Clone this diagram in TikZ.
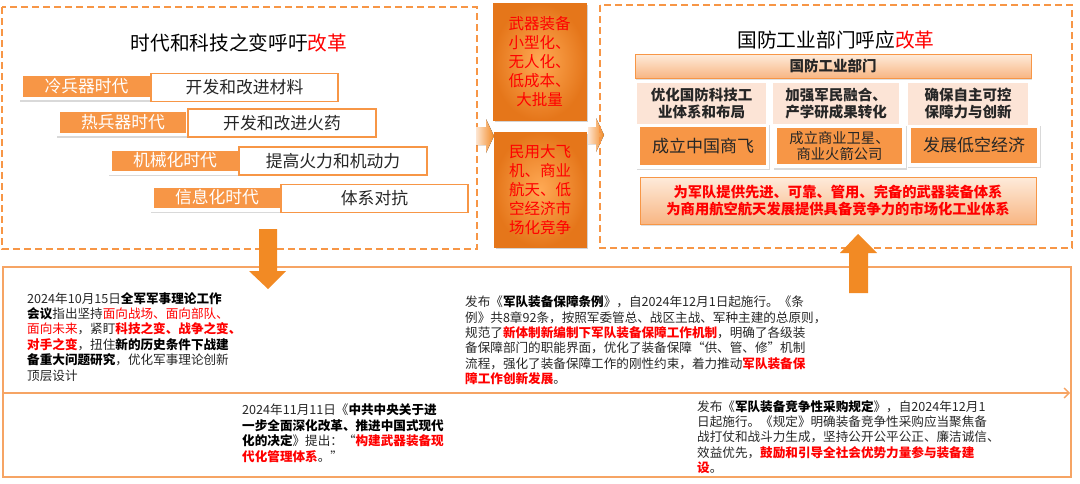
\documentclass[tikz,border=0pt]{standalone}
\usepackage{fontspec}
\setmainfont{Noto Sans CJK SC}
\usetikzlibrary{shadows,arrows.meta}
\definecolor{orL}{HTML}{F79646}
\definecolor{orA}{HTML}{F28A24}
\definecolor{orLine}{HTML}{F6A464}
\definecolor{redT}{HTML}{FF0000}
\definecolor{peach}{HTML}{FCE4D6}
\definecolor{txt}{HTML}{262626}
\definecolor{midIn}{HTML}{FFAA55}
\definecolor{midOut}{HTML}{E5761A}
\definecolor{hdTop}{HTML}{FEEBDB}
\definecolor{hdBot}{HTML}{F8B683}
\newcommand\redbf[1]{\textcolor{redT}{\bfseries #1}}
\newcommand\redtx[1]{\textcolor{redT}{#1}}
\newcommand\blkbf[1]{{\color{black}\bfseries #1}}
\begin{document}
\begin{tikzpicture}[x=1pt,y=-1pt,
  dashbox/.style={draw=orL, line width=2.2pt, dash pattern=on 7pt off 4pt},
  eralabel/.style={fill=orL, text=white, inner sep=0, font=\fontsize{16.8}{20}\selectfont},
  erabox/.style={draw=orL, line width=1.6pt, fill=white, inner sep=0, text=txt, font=\fontsize{16.8}{20}\selectfont},
  shbox/.style={fill=white, inner sep=0, drop shadow={opacity=0.3, shadow xshift=1pt, shadow yshift=-1.5pt}},
  midbox/.style={inner sep=0, text=redT, align=center, font=\fontsize{15.5}{19}\selectfont, inner color=midIn, outer color=midOut, draw=midOut, drop shadow={opacity=0.35, shadow xshift=1.5pt, shadow yshift=-1.5pt}},
  blockarrow/.style={fill=orA},
  sidearrow/.style={left color=orL!25, right color=orA},
  coltext/.style={fill=peach, inner sep=0, text=txt, align=center, font=\fontsize{14.5}{17}\bfseries},
  orbox/.style={fill=orL, inner sep=0, text=txt, align=center},
  bline/.style={draw=orLine, line width=1.3pt},
  body/.style={anchor=north west, inner sep=0, align=left, text=txt, font=\fontsize{12.6}{15.4}\selectfont},
]
\useasboundingbox (0,0) rectangle (1080,483);

% ---------- left dashed panel ----------
\draw[dashbox] (2,7) rectangle (477,249);
\node[text=black, font=\fontsize{19.7}{22}\selectfont] (t1) at (239,43) {时代和科技之变呼吁\textcolor{redT}{改革}};

\node[shbox, minimum width=133, minimum height=27] (S1) at (85.5,86.5) {};
\node[eralabel, minimum width=127, minimum height=21] (L1) at (86.5,86.5) {冷兵器时代};
\node[erabox, minimum width=187, minimum height=28] (B1) at (244.5,87.5) {开发和改进材料};

\node[shbox, minimum width=132, minimum height=28] (S2) at (122,122) {};
\node[eralabel, minimum width=126, minimum height=21] (L2) at (123,122) {热兵器时代};
\node[erabox, minimum width=188, minimum height=28] (B2) at (282,123) {开发和改进火药};

\node[shbox, minimum width=132, minimum height=28] (S3) at (174,160.5) {};
\node[eralabel, minimum width=126, minimum height=20] (L3) at (175,160.5) {机械化时代};
\node[erabox, minimum width=188, minimum height=28] (B3) at (333,161) {提高火力和机动力};

\node[shbox, minimum width=132, minimum height=28] (S4) at (216,197.5) {};
\node[eralabel, minimum width=126, minimum height=20] (L4) at (217,197.5) {信息化时代};
\node[erabox, minimum width=187, minimum height=28] (B4) at (374.5,198.5) {体系对抗};

% ---------- middle boxes ----------
\node[midbox, minimum width=93, minimum height=117] (M1) at (539.5,62) {武器装备\\小型化、\\无人化、\\低成本、\\大批量};
\node[midbox, minimum width=92, minimum height=115] (M2) at (540,189.5) {民用大飞\\机、商业\\航天、低\\空经济市\\场化竞争};

% side arrows
\fill[sidearrow] (476,127) -- (486,127) -- (486,119) -- (494,136) -- (486,153) -- (486,145) -- (476,145) -- cycle;
\fill[sidearrow] (588,127) -- (596,127) -- (596,118) -- (604,135) -- (596,152) -- (596,144) -- (588,144) -- cycle;

% ---------- right dashed panel ----------
\draw[dashbox] (600,5) rectangle (1072,248);
\node[text=black, font=\fontsize{19.7}{22}\selectfont] (t2) at (836,40) {国防工业部门呼应\textcolor{redT}{改革}};
\node[top color=hdTop, bottom color=hdBot, draw=orL, line width=0.8pt, minimum width=396, minimum height=24, inner sep=0,
      text=txt, font=\fontsize{14.5}{17}\bfseries, drop shadow={opacity=0.25, shadow xshift=1pt, shadow yshift=-1.5pt}] (H) at (833,66) {国防工业部门};

\node[coltext, minimum width=129, minimum height=42] (C1) at (701.5,103.5) {优化国防科技工\\业体系和布局};
\node[coltext, minimum width=126, minimum height=42] (C2) at (836,103.5) {加强军民融合、\\产学研成果转化};
\node[coltext, minimum width=120, minimum height=42] (C3) at (968,103.5) {确保自主可控\\保障力与创新};

\node[shbox, minimum width=133, minimum height=45] (F1) at (702.5,146) {};
\node[orbox, minimum width=126, minimum height=38, font=\fontsize{17}{20}\selectfont] (O1) at (703,146) {成立中国商飞};
\node[shbox, minimum width=133, minimum height=44] (F2) at (839,146) {};
\node[orbox, minimum width=125, minimum height=36, font=\fontsize{14.3}{16.5}\selectfont] (O2) at (839.5,146) {成立商业卫星、\\商业火箭公司};
\node[shbox, minimum width=133, minimum height=42] (F3) at (973.5,145.5) {};
\node[orbox, minimum width=126, minimum height=35, font=\fontsize{17}{20}\selectfont] (O3) at (974,145.5) {发展低空经济};

\node[top color=hdTop, bottom color=hdBot, draw=orL, line width=1pt, minimum width=396, minimum height=47, inner sep=0,
      text=redT, align=center, font=\fontsize{14.3}{16.5}\bfseries, drop shadow={opacity=0.25, shadow xshift=1pt, shadow yshift=-1.5pt}] (BN) at (838,200.5)
      {为军队提供先进、可靠、管用、完备的武器装备体系\\为商用航空航天发展提供具备竞争力的市场化工业体系};

% ---------- bottom panel ----------
\draw[bline] (3,267) rectangle (1071,477);
\coordinate (mL) at (3,393);
\coordinate (mR) at (1070,393);
\draw[bline, -{Straight Barb[length=5pt,width=10pt]}] (mL) -- (mR);

% big arrows
\fill[blockarrow] (259,229) -- (277,229) -- (277,271) -- (286,271) -- (268,289) -- (249,271) -- (259,271) -- cycle;
\fill[blockarrow] (849,293) -- (868,293) -- (868,253) -- (877,253) -- (858,234) -- (840,253) -- (849,253) -- cycle;

\node[body] (T1) at (27,292) {2024年10月15日\blkbf{全军军事理论工作}\\
\blkbf{会议}指出坚持\redtx{面向战场、面向部队、}\\
\redtx{面向未来}，紧盯\redbf{科技之变、战争之变、}\\
\redbf{对手之变}，扭住\blkbf{新的历史条件下战建}\\
\blkbf{备重大问题研究}，优化军事理论创新\\
顶层设计};

\node[body] (T2) at (465,295.5) {发布《\blkbf{军队装备保障条例}》，自2024年12月1日起施行。《条\\
例》共8章92条，按照军委管总、战区主战、军种主建的总原则，\\
规范了\redbf{新体制新编制下军队装备保障工作机制}，明确了各级装\\
备保障部门的职能界面，优化了装备保障“供、管、修”机制\\
流程，强化了装备保障工作的刚性约束，着力推动\redbf{军队装备保}\\
\redbf{障工作创新发展}。};

\node[body] (T3) at (242,404) {2024年11月11日《\blkbf{中共中央关于进}\\
\blkbf{一步全面深化改革、推进中国式现代}\\
\blkbf{化的决定}》提出：“\redbf{构建武器装备现}\\
\redbf{代化管理体系}。”};

\node[body] (T4) at (697,400) {发布《\blkbf{军队装备竞争性采购规定}》，自2024年12月1\\
日起施行。《规定》明确装备竞争性采购应当聚焦备\\
战打仗和战斗力生成，坚持公开公平公正、廉洁诚信、\\
效益优先，\redbf{鼓励和引导全社会优势力量参与装备建}\\
\redbf{设}。};
\end{tikzpicture}
\end{document}
